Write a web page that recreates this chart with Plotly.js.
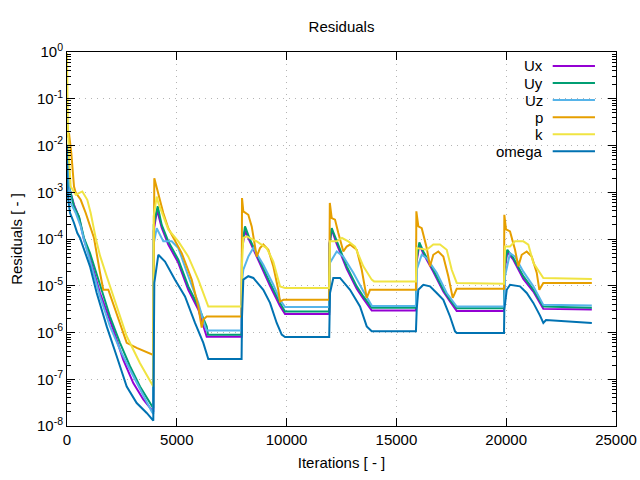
<!DOCTYPE html>
<html>
<head>
<meta charset="utf-8">
<script src="https://cdn.plot.ly/plotly-3.0.1.min.js"></script>
<style>html,body{margin:0;padding:0;background:#fff}#chart{width:640px;height:480px}</style>
</head>
<body>
<div id="chart"></div>
<script>
// ---- data (iterations, residual values) ----
const seriesNames = ["Ux", "Uy", "Uz", "p", "k", "omega"];

const uxIter = [0,91,319,546,774,1047,1503,2109,2564,3019,3475,3857,3930,
  3950,4100,4313,4613,5069,5524,5979,6362,7950,
  7970,8106,8334,8789,9245,9700,9928,11940,
  11960,12054,12282,12738,13193,13494,13876,15890,
  15910,16044,16226,16681,17137,17442,17747,19900,
  19920,20052,20325,20780,21236,21691,23900];
const uxVal = [9.4e-3,1.3e-3,5.4e-4,2.9e-4,9.7e-5,3.9e-5,7.0e-6,1.15e-6,2.6e-7,8.3e-8,3.7e-8,2.2e-8,2.0e-8,
  1.5e-4,4.2e-4,1.75e-4,7.6e-5,3.1e-5,8.2e-6,3.1e-6,8.1e-7,8.1e-7,
  6e-5,1.5e-4,8.7e-5,3.0e-5,1.0e-5,3.7e-6,2.5e-6,2.5e-6,
  8e-5,1.6e-4,7.9e-5,2.3e-5,8.6e-6,5.3e-6,2.95e-6,2.95e-6,
  3e-5,7.6e-5,4.9e-5,2.0e-5,7.5e-6,4.6e-6,2.9e-6,2.9e-6,
  2e-5,5.3e-5,3.6e-5,1.4e-5,7.5e-6,3.2e-6,3.1e-6];

const uyIter = [0,91,319,546,774,1047,1503,1958,2413,2869,3324,3780,3930,
  3950,4130,4313,4613,5069,5524,5979,6362,6421,7950,
  7970,8106,8334,8789,9245,9700,9928,11940,
  11960,12054,12282,12738,13193,13494,13876,15890,
  15910,16044,16226,16681,17137,17442,17747,19900,
  19920,20052,20325,20780,21236,21691,23900];
const uyVal = [9.6e-3,1.33e-3,5.0e-4,3.0e-4,1.05e-4,5.0e-5,1.05e-5,2.2e-6,6.0e-7,1.9e-7,7.0e-8,3.1e-8,2.4e-8,
  2e-4,5.0e-4,2.0e-4,8.9e-5,3.6e-5,9.7e-6,3.6e-6,1.35e-6,9.0e-7,9.0e-7,
  7e-5,1.86e-4,9.7e-5,3.3e-5,1.15e-5,4.3e-6,2.8e-6,2.8e-6,
  8e-5,1.7e-4,8.9e-5,2.6e-5,9.7e-6,5.9e-6,3.4e-6,3.4e-6,
  3.5e-5,8.5e-5,5.4e-5,2.2e-5,8.2e-6,5.0e-6,3.3e-6,3.3e-6,
  2.5e-5,5.9e-5,3.9e-5,1.6e-5,8.2e-6,3.6e-6,3.4e-6];

const uzIter = [0,168,396,624,774,1047,1503,1958,2413,2869,3324,3857,3930,
  3950,4085,4385,4768,5069,5524,5979,6285,6362,7950,
  7965,8029,8256,8484,8939,9395,9700,9928,11940,
  11977,12282,12583,13038,13494,13799,13890,15890,
  15925,16153,16381,16836,17292,17747,19900,
  19946,20174,20402,20780,21236,21691,23900];
const uzVal = [7.0e-3,5.9e-4,3.6e-4,1.86e-4,9.7e-5,3.3e-5,5.9e-6,1.35e-6,4.3e-7,1.6e-7,6.0e-8,2.05e-8,1.8e-8,
  8e-5,1.7e-4,8.9e-5,8.9e-5,6.4e-5,1.6e-5,4.3e-6,1.35e-6,1.1e-6,1.1e-6,
  1.2e-5,2.2e-5,4.2e-5,6.4e-5,2.8e-5,1.05e-5,5.0e-6,3.5e-6,3.5e-6,
  3.1e-5,5.4e-5,4.2e-5,1.9e-5,7.6e-6,4.3e-6,3.7e-6,3.7e-6,
  2.2e-5,4.6e-5,3.9e-5,1.9e-5,7.0e-6,3.6e-6,3.6e-6,
  1.6e-5,5.0e-5,4.2e-5,2.0e-5,9.7e-6,3.9e-6,3.8e-6];

const pIter = [0,91,196,319,396,624,852,1079,1230,1503,1653,1881,2263,2719,3174,3552,3930,
  3976,4158,4385,4613,4918,5223,5678,5979,6134,6207,6362,7950,
  7970,8029,8256,8411,8639,8789,8939,9167,9395,9622,9700,9852,11940,
  11968,12054,12205,12355,12583,12738,12888,13193,13421,13649,13799,15890,
  15909,15999,16153,16381,16531,16681,16909,17137,17364,17565,17747,19900,
  19915,19992,20174,20402,20552,20707,20935,21162,21390,21509,21691,23900];
const pVal = [1.5e-2,1.85e-2,6.9e-3,1.33e-3,9.8e-4,6.9e-4,3.6e-4,1.6e-4,1.05e-4,1.9e-5,8.2e-6,8.2e-6,2.6e-6,6.0e-7,4.7e-7,4.0e-7,3.3e-7,
  2.0e-3,9.6e-4,3.6e-4,1.7e-4,8.9e-5,5.0e-5,1.35e-5,3.6e-6,1.27e-6,1.9e-6,2.2e-6,2.2e-6,
  7.5e-4,3.9e-4,3.3e-4,1.86e-4,4.2e-5,6.4e-5,7.6e-5,5.9e-5,2.6e-5,8.2e-6,4.6e-6,5.0e-6,5.0e-6,
  5.9e-4,2.8e-4,2.6e-4,1.34e-4,5.4e-5,6.9e-5,7.6e-5,5.9e-5,2.2e-5,5.5e-6,8.2e-6,8.2e-6,
  3.9e-4,1.86e-4,1.7e-4,6.4e-5,2.6e-5,4.6e-5,5.4e-5,4.2e-5,1.6e-5,5.5e-6,8.6e-6,8.6e-6,
  3.3e-4,1.6e-4,1.45e-4,5.9e-5,2.6e-5,4.6e-5,5.4e-5,4.2e-5,1.9e-5,8.2e-6,1.15e-5,1.15e-5];

const kIter = [0,32,91,168,396,697,924,1079,1307,1503,1808,2263,2719,3324,3930,
  3945,4085,4158,4613,5069,5524,5979,6434,7950,
  7970,8029,8184,8639,9094,9395,9700,9928,11940,
  11977,12282,12523,12810,13116,13494,13876,13981,15890,
  15925,16381,16681,16986,17292,17519,17747,19900,
  19946,20174,20402,20780,21008,21236,21691,23900];
const kVal = [0.95,3.6e-2,5.0e-3,1.33e-3,8.9e-4,1.04e-3,6.9e-4,3.6e-4,1.05e-4,4.4e-5,1.6e-5,3.6e-6,8.3e-7,2.2e-7,7.0e-8,
  3.0e-4,8.1e-4,5.9e-4,1.6e-4,8.9e-5,4.2e-5,1.35e-5,3.6e-6,3.6e-6,
  3e-5,1.05e-4,1.14e-4,8.9e-5,6.4e-5,3.3e-5,9.7e-6,9.0e-6,9.0e-6,
  8.9e-5,8.9e-5,1.05e-4,8.9e-5,6.9e-5,2.6e-5,1.35e-5,1.24e-5,1.24e-5,
  6.4e-5,5.9e-5,7.6e-5,7.6e-5,5.9e-5,2.2e-5,1.15e-5,1.1e-5,
  6.9e-5,6.9e-5,8.9e-5,8.9e-5,7.6e-5,3.1e-5,1.47e-5,1.4e-5];

const omegaIter = [0,14,59,137,319,469,592,897,1047,1353,1808,2263,2719,3174,3630,3930,
  3976,4158,4463,4918,5374,5829,6207,6434,7950,
  7970,8029,8256,8484,8939,9245,9549,9777,9928,11940,
  11977,12127,12432,12888,13343,13649,13876,15890,
  15925,15999,16226,16531,16836,17137,17442,17670,17747,19900,
  19915,20024,20174,20630,20935,21236,21540,21691,21813,23900];
const omegaVal = [1.04e-2,1.33e-3,6.9e-4,3.6e-4,2.2e-4,1.34e-4,1.05e-4,4.2e-5,2.6e-5,7.0e-6,1.35e-6,3.1e-7,7.0e-8,3.1e-8,1.9e-8,1.3e-8,
  1.15e-5,4.6e-5,3.3e-5,1.35e-5,5.9e-6,1.6e-6,6.0e-7,2.7e-7,2.7e-7,
  2.2e-6,1.35e-5,1.6e-5,1.47e-5,8.2e-6,4.3e-6,1.6e-6,9.0e-7,8.0e-7,8.0e-7,
  7.0e-6,1.47e-5,1.47e-5,8.2e-6,3.6e-6,1.35e-6,1.06e-6,1.06e-6,
  3.1e-6,8.2e-6,1.05e-5,9.7e-6,7.0e-6,5.0e-6,2.2e-6,1.06e-6,9.8e-7,9.8e-7,
  3.1e-6,8.2e-6,1.05e-5,9.7e-6,7.0e-6,4.3e-6,2.3e-6,1.6e-6,1.85e-6,1.6e-6];

const xTickVals = [0, 5000, 10000, 15000, 20000, 25000];
const xTickText = ["0", "5000", "10000", "15000", "20000", "25000"];
const yTickVals = [1e-8, 1e-7, 1e-6, 1e-5, 1e-4, 1e-3, 1e-2, 1e-1, 1];
const yTickText = ["10<sup>-8</sup>","10<sup>-7</sup>","10<sup>-6</sup>","10<sup>-5</sup>","10<sup>-4</sup>","10<sup>-3</sup>","10<sup>-2</sup>","10<sup>-1</sup>","10<sup>0</sup>"];

// ---- styling ----
const colors = ["#9400d3", "#009e73", "#56b4e9", "#e69f00", "#f0e442", "#0072b2"];
const xs = [uxIter, uyIter, uzIter, pIter, kIter, omegaIter];
const ys = [uxVal, uyVal, uzVal, pVal, kVal, omegaVal];
const FONT = "Liberation Sans, Arial, sans-serif";

const traces = seriesNames.map((n, i) => ({
  type: "scatter", mode: "lines", name: n,
  x: xs[i], y: ys[i],
  line: {color: colors[i], width: 2},
  showlegend: false
}));

// gnuplot-like legend: right-aligned text, line sample to the right
const legendTop = 0.9626, legendStep = 0.0456;
const annotations = seriesNames.map((n, i) => ({
  xref: "paper", yref: "paper", x: 0.8707, y: legendTop - i * legendStep,
  xanchor: "right", yanchor: "middle", text: n, showarrow: false,
  font: {family: FONT, size: 15, color: "#000"}
}));
const shapes = seriesNames.map((n, i) => ({
  type: "line", xref: "paper", yref: "paper",
  x0: 0.8847, x1: 0.9617, y0: legendTop - i * legendStep, y1: legendTop - i * legendStep,
  line: {color: colors[i], width: 2}
}));

const GRID = "#b4b4b4";
const layout = {
  width: 640, height: 480,
  margin: {l: 67, r: 24, t: 52, b: 54},
  paper_bgcolor: "#fff", plot_bgcolor: "#fff",
  font: {family: FONT, size: 15, color: "#000"},
  title: {text: "Residuals", font: {family: FONT, size: 15, color: "#000"},
          xref: "paper", x: 0.5, xanchor: "center", y: 0.944, yanchor: "middle"},
  xaxis: {
    range: [0, 25000], tickmode: "array", tickvals: xTickVals, ticktext: xTickText,
    ticks: "inside", ticklen: 8, tickcolor: "#000", tickwidth: 1,
    showline: true, linecolor: "#000", linewidth: 1, mirror: true,
    showgrid: true, gridcolor: GRID, griddash: "1px,5px", gridwidth: 1,
    zeroline: false, tickfont: {family: FONT, size: 15, color: "#000"},
    title: {text: "Iterations [ - ]", font: {family: FONT, size: 15, color: "#000"}, standoff: 10},
    automargin: false
  },
  xaxis2: {
    overlaying: "x", side: "top", range: [0, 25000], tickmode: "array", tickvals: xTickVals,
    ticks: "inside", ticklen: 8, tickcolor: "#000", showticklabels: false,
    showgrid: false, zeroline: false, showline: false, automargin: false
  },
  yaxis: {
    type: "log", range: [-8, 0], tickmode: "array", tickvals: yTickVals, ticktext: yTickText,
    ticks: "inside", ticklen: 8, tickcolor: "#000", tickwidth: 1,
    minor: {ticks: "inside", ticklen: 4, dtick: "D1", tickcolor: "#000", showgrid: false},
    showline: true, linecolor: "#000", linewidth: 1, mirror: true,
    showgrid: true, gridcolor: GRID, griddash: "1px,5px", gridwidth: 1,
    zeroline: false, tickfont: {family: FONT, size: 15, color: "#000"},
    title: {text: "Residuals [ - ]", font: {family: FONT, size: 15, color: "#000"}, standoff: 10},
    automargin: false
  },
  yaxis2: {
    overlaying: "y", side: "right", type: "log", range: [-8, 0], tickmode: "array", tickvals: yTickVals,
    ticks: "inside", ticklen: 8, tickcolor: "#000", showticklabels: false,
    minor: {ticks: "inside", ticklen: 4, dtick: "D1", tickcolor: "#000", showgrid: false},
    showgrid: false, zeroline: false, showline: false, automargin: false
  },
  annotations: annotations,
  shapes: shapes
};

// invisible trace so the mirrored axes get drawn
traces.push({type: "scatter", mode: "lines", x: [0, 25000], y: [1e-8, 1], xaxis: "x2", yaxis: "y2",
  line: {width: 0, color: "rgba(0,0,0,0)"}, hoverinfo: "skip", showlegend: false});

Plotly.newPlot("chart", traces, layout, {staticPlot: true, displayModeBar: false});
</script>
</body>
</html>
